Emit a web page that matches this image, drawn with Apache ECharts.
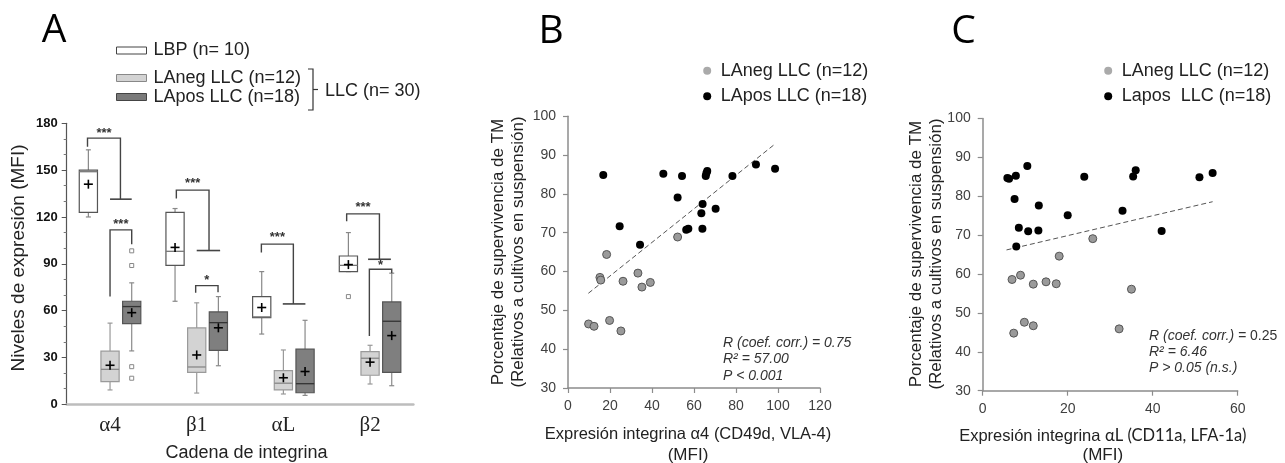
<!DOCTYPE html>
<html>
<head>
<meta charset="utf-8">
<script src="https://cdn.jsdelivr.net/npm/echarts@6/dist/echarts.min.js"></script>
<style>
  html, body { margin: 0; padding: 0; background: #fff; }
  #main { width: 1285px; height: 463px; }
</style>
</head>
<body>
<div id="main"></div>
<script>
// ---- Panel A: boxplots (low, q1, median, q3, high) per integrin chain
const cadenas = ['α4', 'β1', 'αL', 'β2'];
const lbpBox = [[120, 123, 149, 150, 163], [66, 89, 98, 123, 125.4], [45, 55.5, 56, 69, 85], [85, 85, 89, 95, 110]];
const lbpMean = [141, 100.5, 62, 89.5];
const lanegBox = [[9.2, 14.5, 22.4, 34, 52], [7.2, 20.5, 23.9, 48.9, 65], [6.6, 9.2, 13.5, 21.6, 34.8], [13, 18.6, 29.5, 33.7, 37.8]];
const lanegMean = [25, 31.6, 17, 27];
const laposBox = [[34.2, 51.7, 62.6, 66, 77.8], [24.7, 34.6, 52.3, 59.2, 69], [5.7, 7.4, 13.2, 35.3, 53.8], [11.9, 20.5, 53.2, 65.6, 84]];
const laposMean = [58.7, 49, 21, 44];
// outliers: [chain index, group (0 LBP, 1 LAneg, 2 LApos), value]
const outliers = [[0, 2, 98.3], [0, 2, 88.9], [0, 2, 24.1], [0, 2, 16.7], [3, 0, 69]];
// significance brackets (x in fractions of a category band, y in MFI)
const sigBrackets = [
  { cat: 0, x1: -0.26, y1: 165, top: 170.5, x2: 0.12, y2: 131.4, bar: [0, 0.25], mark: '***', markY: 175 },
  { cat: 0, x1: 0, y1: 69, top: 111.7, x2: 0.25, y2: 102.5, bar: null, mark: '***', markY: 116.4 },
  { cat: 1, x1: -0.235, y1: 131.8, top: 137.2, x2: 0.142, y2: 98.5, bar: [0, 0.27], mark: '***', markY: 142.7 },
  { cat: 1, x1: -0.012, y1: 71.5, top: 76, x2: 0.246, y2: 71.7, bar: null, mark: '*', markY: 80.5 },
  { cat: 2, x1: -0.254, y1: 97.2, top: 102.6, x2: 0.115, y2: 64.3, bar: [-0.007, 0.254], mark: '***', markY: 107.9 },
  { cat: 3, x1: -0.27, y1: 117.3, top: 122, x2: 0.108, y2: 92.9, bar: [-0.023, 0.24], mark: '***', markY: 127.6 },
  { cat: 3, x1: -0.008, y1: 43.8, top: 86.5, x2: 0.25, y2: 84, bar: null, mark: '*', markY: 90.4 }
];

// ---- Panel B: survival vs alpha4 expression
const bLaneg = [[18.4, 64.4], [15.2, 58.5], [15.6, 57.8], [26.2, 57.5], [33.3, 59.6], [35.2, 56.0], [39.2, 57.2], [52.2, 68.9], [9.8, 46.5], [12.4, 45.9], [19.8, 47.4], [25.2, 44.7]];
const bLapos = [[16.8, 84.9], [45.4, 85.2], [54.3, 84.6], [52.2, 79.1], [24.6, 71.7], [34.3, 66.9], [56.3, 70.8], [57.3, 71.0], [66.3, 85.9], [65.6, 84.6], [65.9, 85.3], [78.3, 84.6], [89.5, 87.6], [98.6, 86.5], [64.1, 77.4], [63.5, 75.0], [70.3, 76.2], [64.0, 71.0]];
const bTrend = [[9.7, 54.4], [98.2, 92.7]];

// ---- Panel C: survival vs alphaL expression
const cLaneg = [[25.9, 69.1], [18.0, 64.6], [6.9, 58.6], [8.9, 59.7], [11.9, 57.4], [14.9, 58.0], [17.3, 57.5], [9.8, 47.6], [11.9, 46.7], [7.3, 44.8], [35.0, 56.1], [32.1, 45.9]];
const cLapos = [[5.8, 84.7], [6.2, 84.5], [7.8, 85.3], [10.5, 87.8], [23.9, 85.0], [7.5, 79.3], [13.2, 77.6], [20.0, 75.1], [8.5, 71.9], [10.7, 71.0], [13.1, 71.2], [7.9, 67.1], [36.0, 86.7], [35.4, 85.1], [51.0, 84.9], [54.1, 86.0], [32.9, 76.3], [42.1, 71.1]];
const cTrend = [[5.6, 66.2], [54.1, 78.6]];

const SANS = '"Liberation Sans", Arial, sans-serif';
const chart = echarts.init(document.getElementById('main'), null, { renderer: 'canvas' });

const groupOffset = [-0.25, 0, 0.25];
const groupStyle = [
  { fill: '#ffffff', stroke: '#555', whisk: '#888', med: '#777' },
  { fill: '#d3d3d3', stroke: '#9a9a9a', whisk: '#999', med: '#888' },
  { fill: '#7f7f7f', stroke: '#555', whisk: '#8a8a8a', med: '#333' }
];

function boxRender(g) {
  return function (params, api) {
    const cat = api.value(0);
    const band = api.size([1, 0])[0];
    const cx = api.coord([cat, 0])[0] + groupOffset[g] * band;
    const hw = band * 0.105;
    const y = i => api.coord([cat, api.value(i)])[1];
    const low = y(1), q1 = y(2), med = y(3), q3 = y(4), high = y(5), mean = y(6);
    const st = groupStyle[g];
    const ln = (x1, y1, x2, y2, c, w) => ({ type: 'line', shape: { x1, y1, x2, y2 }, style: { stroke: c, lineWidth: w || 1 } });
    return {
      type: 'group',
      children: [
        ln(cx, q3, cx, high, st.whisk, 1.2),
        ln(cx - 2.5, high, cx + 2.5, high, st.whisk, 1.2),
        ln(cx, q1, cx, low, st.whisk, 1.2),
        ln(cx - 2.5, low, cx + 2.5, low, st.whisk, 1.2),
        { type: 'rect', shape: { x: cx - hw, y: q3, width: hw * 2, height: q1 - q3 }, style: { fill: st.fill, stroke: st.stroke, lineWidth: 1.2 } },
        ln(cx - hw, med, cx + hw, med, st.med, 1.3),
        ln(cx - 4.5, mean, cx + 4.5, mean, '#000', 1.6),
        ln(cx, mean - 4.5, cx, mean + 4.5, '#000', 1.6)
      ]
    };
  };
}

function boxData(box, mean) {
  return cadenas.map((c, i) => [i].concat(box[i], [mean[i]]));
}

function bracketRender(params, api) {
  const b = sigBrackets[params.dataIndex];
  const band = api.size([1, 0])[0];
  const c0 = api.coord([b.cat, 0])[0];
  const px = f => c0 + f * band;
  const py = v => api.coord([b.cat, v])[1];
  const col = '#444';
  const children = [{
    type: 'polyline',
    shape: { points: [[px(b.x1), py(b.y1)], [px(b.x1), py(b.top)], [px(b.x2), py(b.top)], [px(b.x2), py(b.y2)]] },
    style: { stroke: col, lineWidth: 1.4, fill: null }
  }];
  if (b.bar) {
    children.push({ type: 'line', shape: { x1: px(b.bar[0]), y1: py(b.y2), x2: px(b.bar[1]), y2: py(b.y2) }, style: { stroke: col, lineWidth: 1.6 } });
  }
  children.push({
    type: 'text',
    style: { text: b.mark, x: (px(b.x1) + px(b.x2)) / 2, y: py(b.markY) + 2, align: 'center', verticalAlign: 'middle', fill: '#333', font: 'bold 13px ' + SANS }
  });
  return { type: 'group', children };
}

function outlierRender(params, api) {
  const cat = api.value(0);
  const band = api.size([1, 0])[0];
  const cx = api.coord([cat, 0])[0] + groupOffset[api.value(1)] * band;
  const cy = api.coord([cat, api.value(2)])[1];
  return { type: 'rect', shape: { x: cx - 2, y: cy - 2, width: 4, height: 4 }, style: { fill: '#fff', stroke: '#888', lineWidth: 1 } };
}

const scatterAxis = (min, max, interval) => ({
  min, max, interval,
  axisLine: { show: true, lineStyle: { color: '#8c8c8c', width: 1.5 } },
  axisTick: { show: true, length: 5, lineStyle: { color: '#8c8c8c', width: 1.2 } },
  axisLabel: { color: '#404040', fontSize: 14, fontFamily: SANS, margin: 11 },
  splitLine: { show: false }
});

const grayDot = { color: '#9a9a9a', borderColor: '#555', borderWidth: 1, opacity: 1 };
const blackDot = { color: '#000', opacity: 1 };

const rotText = (text, x, y, size) => ({
  type: 'text', x, y, rotation: Math.PI / 2,
  style: { text, font: size + 'px ' + SANS, fill: '#222', align: 'center', verticalAlign: 'middle' }
});
const plainText = (text, x, y, size, align, extra) => ({
  type: 'text', x, y,
  style: Object.assign({ text, font: size + 'px ' + SANS, fill: '#222', align: align || 'center', verticalAlign: 'middle' }, extra || {})
});

const option = {
  backgroundColor: '#fff',
  animation: false,
  grid: [
    { left: 66.7, top: 123.3, width: 346.7, height: 281 },
    { left: 568, top: 116.3, width: 252, height: 271.7 },
    { left: 982.7, top: 118.5, width: 255, height: 272.2 }
  ],
  xAxis: [
    {
      gridIndex: 0, type: 'category', data: cadenas,
      axisLine: { lineStyle: { color: '#bdbdbd', width: 2.5 } },
      axisTick: { show: false },
      axisLabel: { color: '#222', fontSize: 21, fontFamily: '"Liberation Serif", "Times New Roman", serif', margin: 11 }
    },
    Object.assign({ gridIndex: 1, type: 'value' }, scatterAxis(0, 120, 20)),
    Object.assign({ gridIndex: 2, type: 'value' }, scatterAxis(0, 60, 20))
  ],
  yAxis: [
    {
      gridIndex: 0, type: 'value', min: 0, max: 180, interval: 30,
      axisLine: { show: true, lineStyle: { color: '#555', width: 1.2 } },
      axisTick: { show: true, length: 5, lineStyle: { color: '#555' } },
      minorTick: { show: true, splitNumber: 3, length: 3, lineStyle: { color: '#777' } },
      axisLabel: { color: '#111', fontSize: 13, fontWeight: 'bold', fontFamily: SANS, margin: 9 },
      splitLine: { show: false }
    },
    Object.assign({ gridIndex: 1, type: 'value' }, scatterAxis(30, 100, 10), { axisLabel: { color: '#404040', fontSize: 14, fontFamily: SANS, margin: 12 } }),
    Object.assign({ gridIndex: 2, type: 'value' }, scatterAxis(30, 100, 10), { axisLabel: { color: '#404040', fontSize: 14, fontFamily: SANS, margin: 12 } })
  ],
  legend: [
    {
      left: 116, top: 41.5, padding: 0, orient: 'vertical', icon: 'rect', itemWidth: 30, itemHeight: 7,
      textStyle: { fontSize: 18, fontFamily: SANS, color: '#222', padding: [0, 0, 0, 2] },
      data: [{ name: 'LBP (n= 10)', itemStyle: { color: '#fff', borderColor: '#444', borderWidth: 1 } }]
    },
    {
      left: 116, top: 69, padding: 0, orient: 'vertical', icon: 'rect', itemWidth: 30, itemHeight: 7, itemGap: 1,
      textStyle: { fontSize: 18, fontFamily: SANS, color: '#222', padding: [0, 0, 0, 2] },
      data: [
        { name: 'LAneg LLC (n=12)', itemStyle: { color: '#d3d3d3', borderColor: '#888', borderWidth: 1 } },
        { name: 'LApos LLC (n=18)', itemStyle: { color: '#7a7a7a', borderColor: '#444', borderWidth: 1 } }
      ]
    },
    {
      left: 703.2, top: 61.8, padding: 0, orient: 'vertical', icon: 'circle', itemWidth: 17, itemHeight: 8, itemGap: 7.4,
      textStyle: { fontSize: 18, fontFamily: SANS, color: '#222' },
      data: [
        { name: 'LAneg LLC (n=12)', itemStyle: { color: '#aaa', borderWidth: 0, opacity: 1 } },
        { name: 'LApos LLC (n=18)', itemStyle: { color: '#000', borderWidth: 0, opacity: 1 } }
      ]
    },
    {
      left: 1104.2, top: 61.8, padding: 0, orient: 'vertical', icon: 'circle', itemWidth: 17, itemHeight: 8, itemGap: 7.4,
      textStyle: { fontSize: 18, fontFamily: SANS, color: '#222' },
      data: [
        { name: 'LAneg LLC (n=12)', itemStyle: { color: '#aaa', borderWidth: 0, opacity: 1 } },
        { name: 'Lapos  LLC (n=18)', itemStyle: { color: '#000', borderWidth: 0, opacity: 1 } }
      ]
    }
  ],
  series: [
    { name: 'LBP (n= 10)', type: 'custom', xAxisIndex: 0, yAxisIndex: 0, renderItem: boxRender(0), encode: { x: 0, y: [1, 2, 3, 4, 5] }, data: boxData(lbpBox, lbpMean), itemStyle: { color: '#fff' } },
    { name: 'LAneg LLC (n=12)', type: 'custom', xAxisIndex: 0, yAxisIndex: 0, renderItem: boxRender(1), encode: { x: 0, y: [1, 2, 3, 4, 5] }, data: boxData(lanegBox, lanegMean), itemStyle: { color: '#d3d3d3' } },
    { name: 'LApos LLC (n=18)', type: 'custom', xAxisIndex: 0, yAxisIndex: 0, renderItem: boxRender(2), encode: { x: 0, y: [1, 2, 3, 4, 5] }, data: boxData(laposBox, laposMean), itemStyle: { color: '#7f7f7f' } },
    { type: 'custom', xAxisIndex: 0, yAxisIndex: 0, renderItem: outlierRender, encode: { x: 0, y: 2 }, data: outliers },
    { type: 'custom', xAxisIndex: 0, yAxisIndex: 0, renderItem: bracketRender, encode: { x: 0, y: 1 }, data: sigBrackets.map(b => [b.cat, b.top]) },

    { type: 'line', xAxisIndex: 1, yAxisIndex: 1, data: bTrend, symbol: 'none', lineStyle: { color: '#555', width: 1, type: [5, 3] }, z: 1 },
    { name: 'LAneg LLC (n=12)', type: 'scatter', xAxisIndex: 1, yAxisIndex: 1, data: bLaneg, symbolSize: 8, itemStyle: grayDot, z: 3 },
    { name: 'LApos LLC (n=18)', type: 'scatter', xAxisIndex: 1, yAxisIndex: 1, data: bLapos, symbolSize: 8, itemStyle: blackDot, z: 3 },

    { type: 'line', xAxisIndex: 2, yAxisIndex: 2, data: cTrend, symbol: 'none', lineStyle: { color: '#555', width: 1, type: [5, 3] }, z: 1 },
    { name: 'LAneg LLC (n=12)', type: 'scatter', xAxisIndex: 2, yAxisIndex: 2, data: cLaneg, symbolSize: 8, itemStyle: grayDot, z: 3 },
    { name: 'Lapos  LLC (n=18)', type: 'scatter', xAxisIndex: 2, yAxisIndex: 2, data: cLapos, symbolSize: 8, itemStyle: blackDot, z: 3 }
  ],
  graphic: [
    // panel letters
    plainText('A', 54, 31, 39, 'center', { font: '39px "Open Sans", sans-serif', fill: '#000' }),
    plainText('B', 551, 31.5, 39, 'center', { font: '39px "Open Sans", sans-serif', fill: '#000' }),
    plainText('C', 963.5, 31.5, 39, 'center', { font: '39px "Open Sans", sans-serif', fill: '#000' }),
    // LLC brace in panel A legend
    { type: 'polyline', shape: { points: [[308, 69], [313, 69], [313, 110], [308, 110]] }, style: { stroke: '#333', lineWidth: 1.2, fill: null } },
    { type: 'line', shape: { x1: 313, y1: 89.5, x2: 318, y2: 89.5 }, style: { stroke: '#333', lineWidth: 1.2 } },
    plainText('LLC (n= 30)', 325, 91, 18, 'left'),
    // axis titles
    rotText('Niveles de expresión (MFI)', 18.5, 258, 19),
    plainText('Cadena de integrina', 246.5, 452.7, 18),
    rotText('Porcentaje de supervivencia de TM', 498, 252, 17),
    rotText('(Relativos a cultivos en suspensión)', 518, 252, 17),
    plainText('Expresión integrina α4 (CD49d, VLA-4)', 688, 434, 16.5),
    plainText('(MFI)', 688, 455, 17),
    rotText('Porcentaje de supervivencia de TM', 916.7, 254, 17),
    rotText('(Relativos a cultivos en suspensión)', 936.7, 254, 17),
    {
      type: 'text', x: 1102.8, y: 436,
      style: {
        text: '{a|Expresión integrina }{b|αL (CD11a, LFA-1a)}', align: 'center', verticalAlign: 'middle',
        rich: { a: { font: '16.5px ' + SANS, fill: '#222' }, b: { font: '16.5px Lato, sans-serif', fill: '#222' } }
      }
    },
    plainText('(MFI)', 1102.8, 455, 17),
    // statistics
    plainText('R (coef. corr.) = 0.75', 723, 343, 14, 'left', { font: 'italic 14px ' + SANS, fill: '#333' }),
    plainText('R² = 57.00', 723, 359, 14, 'left', { font: 'italic 14px ' + SANS, fill: '#333' }),
    plainText('P < 0.001', 723, 375.7, 14, 'left', { font: 'italic 14px ' + SANS, fill: '#333' }),
    {
      type: 'text', x: 1149, y: 336,
      style: {
        text: '{i|R (coef. corr.) = }{n|0.25}', verticalAlign: 'middle', fill: '#333',
        rich: { i: { font: 'italic 14px ' + SANS, fill: '#333' }, n: { font: '14px ' + SANS, fill: '#333' } }
      }
    },
    plainText('R² = 6.46', 1149, 352, 14, 'left', { font: 'italic 14px ' + SANS, fill: '#333' }),
    plainText('P > 0.05 (n.s.)', 1149, 368, 14, 'left', { font: 'italic 14px ' + SANS, fill: '#333' })
  ]
};

chart.setOption(option);
</script>
</body>
</html>
